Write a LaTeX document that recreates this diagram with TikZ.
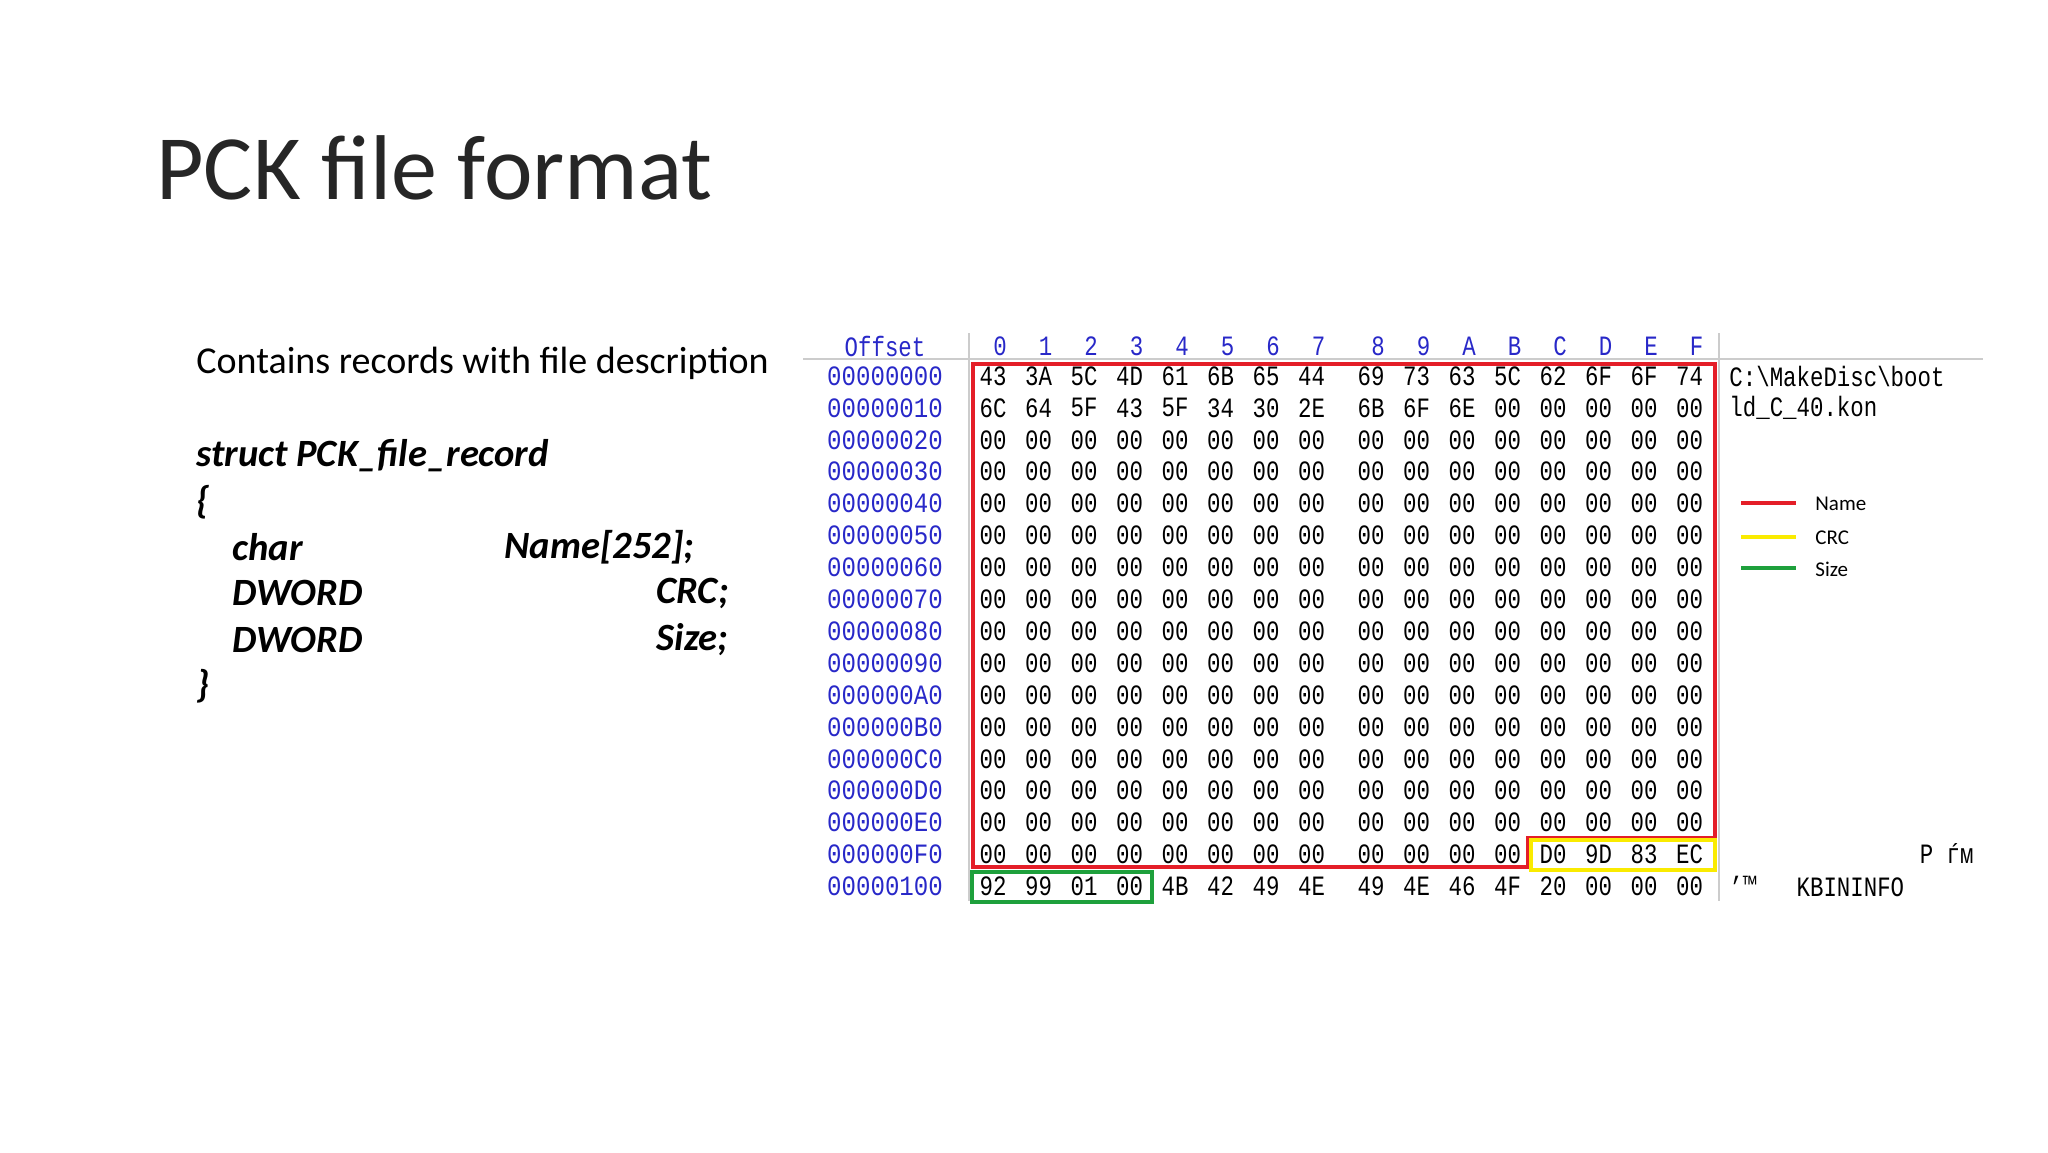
\documentclass[tikz,border=0pt]{standalone}
\usepackage{fontspec}
\setmainfont{Carlito}
\newfontfamily\hexfont[FakeStretch=0.8]{Liberation Mono}
\newfontfamily\legfont{Carlito}
\definecolor{offblue}{RGB}{40,40,200}
\definecolor{boxred}{RGB}{228,30,40}
\definecolor{boxyel}{RGB}{250,235,0}
\definecolor{boxgrn}{RGB}{30,160,60}
\begin{document}
\begin{tikzpicture}[x=0.5pt,y=-0.5pt,
  hex/.style={font=\hexfont\fontsize{14}{14}\selectfont,inner sep=0pt,anchor=center},
  off/.style={hex,text=offblue},
  struct/.style={font=\fontsize{19.3}{22}\selectfont\bfseries\itshape,inner sep=0pt},
  leg/.style={font=\legfont\fontsize{10.5}{11}\selectfont,inner sep=0pt,anchor=west}]
\useasboundingbox (0,0) rectangle (2048,1152);
\node[anchor=west,inner sep=0pt,font=\fontsize{46}{52}\selectfont,text=black!85] (title) at (156,168) {PCK file format};
\node[anchor=west,inner sep=0pt,font=\fontsize{19}{22}\selectfont] (desc) at (196,363) {Contains records with file description};
\node[struct,anchor=west] (s1) at (196,456) {struct PCK\_file\_record};
\node[struct,anchor=west] (s2) at (196,502) {\{};
\node[struct,anchor=west] (s3) at (232,547) {char};
\node[struct,anchor=west] (s3b) at (504,547) {Name[252];};
\node[struct,anchor=west] (s4) at (232,593) {DWORD};
\node[struct,anchor=east] (s4b) at (729,593) {CRC;};
\node[struct,anchor=west] (s5) at (232,640) {DWORD};
\node[struct,anchor=east] (s5b) at (729,640) {Size;};
\node[struct,anchor=west] (s6) at (196,686) {\}};
% grid lines
\draw[gray!40,line width=1pt] (803,359) -- (1983,359);
\draw[gray!40,line width=1pt] (969,333) -- (969,901);
\draw[gray!40,line width=1pt] (1719,333) -- (1719,901);
% header
\node[off] (hoff) at (885,346) {Offset};
\foreach \h [count=\j from 0] in {0,1,2,3,4,5,6,7,8,9,A,B,C,D,E,F}{
  \pgfmathsetmacro{\xx}{\j<8 ? 1000+45.5*\j : 1378+45.5*(\j-8)}
  \node[off] (h\j) at (\xx,346) {\h};
}
% rows
\foreach \o [count=\r from 0] in {00000000,00000010,00000020,00000030,00000040,00000050,00000060,00000070,00000080,00000090,000000A0,000000B0,000000C0,000000D0,000000E0,000000F0,00000100}{
  \node[off] (o\r) at (885,376+31.9*\r) {\addfontfeature{FakeStretch=0.86}\o};
}
\newcommand{\hexrow}[2]{%
  \foreach \v [count=\j from 0] in {#2}{
    \pgfmathsetmacro{\xx}{\j<8 ? 993+45.5*\j : 1371+45.5*(\j-8)}
    \node[hex] (c#1-\j) at (\xx,376+31.9*#1) {\v};
  }}
\hexrow{0}{43,3A,5C,4D,61,6B,65,44,69,73,63,5C,62,6F,6F,74}
\hexrow{1}{6C,64,5F,43,5F,34,30,2E,6B,6F,6E,00,00,00,00,00}
\foreach \r in {2,...,14}{\hexrow{\r}{00,00,00,00,00,00,00,00,00,00,00,00,00,00,00,00}}
\hexrow{15}{00,00,00,00,00,00,00,00,00,00,00,00,D0,9D,83,EC}
\hexrow{16}{92,99,01,00,4B,42,49,4E,49,4E,46,4F,20,00,00,00}
% ascii
\node[hex,anchor=west] (a0) at (1729,376) {C:\textbackslash MakeDisc\textbackslash boot};
\node[hex,anchor=west] (a1) at (1729,408) {ld\_C\_40.kon};
\node[hex,anchor=east] (a15) at (1974,854) {Р ѓм};
\node[hex,anchor=west] (a16) at (1729,886) {’™\ \ \ KBININFO};
% boxes
\draw[boxred,line width=2.2pt] (973,364) -- (1715,364) -- (1715,838) -- (1528,838) -- (1528,867) -- (973,867) -- cycle;
\draw[boxyel,line width=2.2pt] (1531,840) rectangle (1715,870);
\draw[boxgrn,line width=2.2pt] (972,872) rectangle (1152,902);
% legend
\coordinate (l1a) at (1741,503); \coordinate (l1b) at (1796,503);
\coordinate (l2a) at (1741,537); \coordinate (l2b) at (1796,537);
\coordinate (l3a) at (1741,568); \coordinate (l3b) at (1796,568);
\draw[boxred,line width=2.2pt] (l1a) -- (l1b);
\draw[boxyel,line width=2.2pt] (l2a) -- (l2b);
\draw[boxgrn,line width=2.2pt] (l3a) -- (l3b);
\node[leg] (n1) at (1815,504) {Name};
\node[leg] (n2) at (1815,538) {CRC};
\node[leg] (n3) at (1815,569) {Size};
\end{tikzpicture}
\end{document}
